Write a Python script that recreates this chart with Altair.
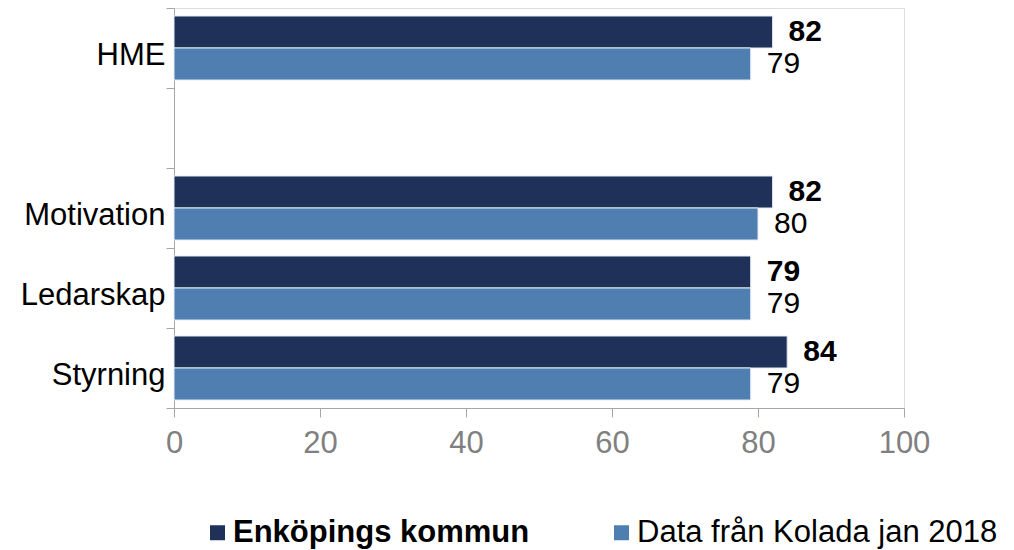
import altair as alt
import pandas as pd

categories = ["HME", " ", "Motivation", "Ledarskap", "Styrning"]
data_categories = ["HME", "Motivation", "Ledarskap", "Styrning"]
series = ["Enköpings kommun", "Data från Kolada jan 2018"]
kommun_values = [82, 82, 79, 84]
kolada_values = [79, 80, 79, 79]
x_ticks = [0, 20, 40, 60, 80, 100]
colors = ["#203159", "#4F7FB1"]

rows = []
for c, k, d in zip(data_categories, kommun_values, kolada_values):
    rows.append({"kategori": c, "serie": series[0], "varde": k})
    rows.append({"kategori": c, "serie": series[1], "varde": d})
df = pd.DataFrame(rows)

FONT = "Liberation Sans"
AXIS_GRAY = "#A6A6A6"

y_enc = alt.Y(
    "kategori:N",
    scale=alt.Scale(domain=categories, paddingInner=0, paddingOuter=0),
    axis=alt.Axis(
        title=None,
        tickBand="extent",
        tickSize=8,
        tickColor=AXIS_GRAY,
        domainColor=AXIS_GRAY,
        labelFont=FONT,
        labelFontSize=31,
        labelColor="#000000",
        labelPadding=1,
        labelOffset=7,
        labelLimit=300,
    ),
)
yoff_enc = alt.YOffset(
    "serie:N", scale=alt.Scale(domain=series, paddingOuter=0.25, paddingInner=0)
)
x_enc = alt.X(
    "varde:Q",
    scale=alt.Scale(domain=[0, 100], nice=False),
    axis=alt.Axis(
        title=None,
        values=x_ticks,
        grid=False,
        tickSize=9,
        tickColor=AXIS_GRAY,
        domainColor=AXIS_GRAY,
        labelFont=FONT,
        labelFontSize=31,
        labelColor="#808080",
        labelPadding=11,
        labelFlush=False,
        labelOverlap=False,
    ),
)

bars = alt.Chart(df).mark_bar(stroke="#E4EBF4", strokeWidth=1).encode(
    x=x_enc,
    y=y_enc,
    yOffset=yoff_enc,
    color=alt.Color(
        "serie:N",
        scale=alt.Scale(domain=series, range=colors),
        legend=alt.Legend(
            title=None,
            orient="none",
            legendX=28,
            legendY=509,
            padding=0,
            direction="horizontal",
            columns=2,
            columnPadding=76,
            symbolType="square",
            symbolSize=225,
            symbolStrokeWidth=0,
            labelFont=FONT,
            labelFontSize=31,
            labelColor="#000000",
            labelOffset=0,
            labelLimit=600,
            labelFontWeight=alt.ExprRef(
                "datum.value == 'Enköpings kommun' ? 'bold' : 'normal'"
            ),
        ),
    ),
)

text_bold = (
    alt.Chart(df)
    .transform_filter(alt.datum.serie == series[0])
    .mark_text(align="left", baseline="middle", dx=16, font=FONT, fontSize=30,
               fontWeight="bold", color="#000000")
    .encode(x="varde:Q", y=alt.Y("kategori:N"), yOffset=yoff_enc, text="varde:Q")
)
text_normal = (
    alt.Chart(df)
    .transform_filter(alt.datum.serie == series[1])
    .mark_text(align="left", baseline="middle", dx=16, font=FONT, fontSize=30,
               color="#000000")
    .encode(x="varde:Q", y=alt.Y("kategori:N"), yOffset=yoff_enc, text="varde:Q")
)

chart = (
    alt.layer(bars, text_bold, text_normal)
    .properties(
        width=730,
        height=400,
        autosize=alt.AutoSizeParams(type="none"),
        padding={"left": 166, "top": 0, "right": 102, "bottom": 160},
    )
    .configure_view(stroke=None)
    .configure(background="white")
)

chart.save("out.html", embed_options={"renderer": "svg", "actions": False})
